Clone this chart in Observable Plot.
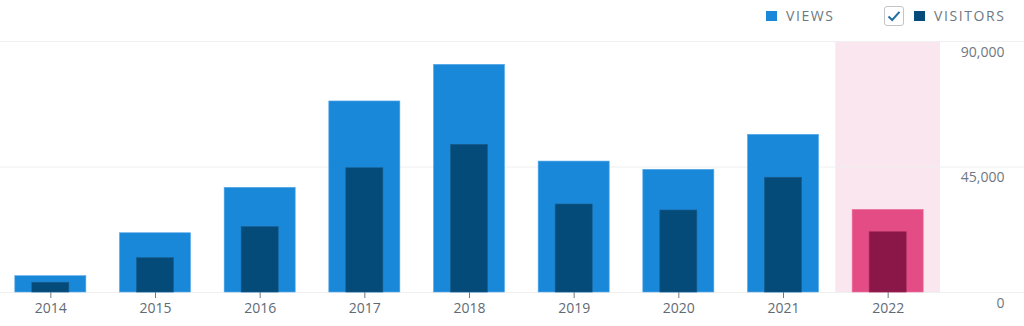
<!DOCTYPE html>
<html>
<head>
<meta charset="utf-8">
<script src="https://cdn.jsdelivr.net/npm/d3@7"></script>
<script src="https://cdn.jsdelivr.net/npm/@observablehq/plot@0.6"></script>
<style>
  html, body { margin: 0; padding: 0; background: #fff; }
  #wrap { position: relative; width: 1024px; height: 326px; font-family: "Open Sans", "Noto Sans", sans-serif; }
  #legend { position: absolute; top: 0; left: 0; width: 1024px; height: 32px; }
  .lg { position: absolute; top: 6px; font-size: 14px; letter-spacing: 1.6px; color: #6d7882; line-height: 20px; }
  .sw { position: absolute; top: 11px; width: 11px; height: 10px; }
  .cb { position: absolute; top: 6px; left: 884px; width: 20px; height: 20px; border: 1px solid #c3c4c7; border-radius: 3px; box-sizing: border-box; background: #fff; }
  #chart { position: absolute; top: 0; left: 0; }
</style>
</head>
<body>
<div id="wrap">
  <div id="chart"></div>
  <div id="legend">
    <div class="sw" style="left:766px;background:#1a88d9"></div>
    <div class="lg" style="left:786px">VIEWS</div>
    <div class="cb"><svg width="18" height="18" viewBox="0 0 18 18"><path d="M3.5 9.5 L7.2 13 L14.5 4.8" fill="none" stroke="#1f6fa6" stroke-width="2"/></svg></div>
    <div class="sw" style="left:914px;background:#064a79"></div>
    <div class="lg" style="left:934px">VISITORS</div>
  </div>
</div>
<script>
const years = ["2014","2015","2016","2017","2018","2019","2020","2021","2022"];
const views = [5850, 21250, 37550, 68500, 81650, 46950, 44000, 56550, 29650];
const visitors = [3500, 12300, 23450, 44550, 52950, 31550, 29400, 41150, 21600];
const highlightYear = "2022";
const yTicks = [0, 45000, 90000];

const data = years.map((y, i) => ({year: y, views: views[i], visitors: visitors[i], hl: y === highlightYear}));

const plot = Plot.plot({
  width: 1024,
  height: 326,
  marginTop: 41,
  marginBottom: 34,
  marginLeft: 0,
  marginRight: 0,
  style: {fontFamily: "'Open Sans', 'Noto Sans', sans-serif", fontSize: "14px", background: "transparent"},
  x: {domain: years, range: [-2, 940], padding: 0, round: false, label: null},
  y: {domain: [0, 90000], label: null, axis: null},
  marks: [
    Plot.barY(data.filter(d => d.hl), {x: "year", y1: 0, y2: 90000, fill: "#f9e6ee"}),
    Plot.ruleY(yTicks, {stroke: "#f0f0f0", strokeWidth: 1}),
    Plot.barY(data, {x: "year", y: "views", fill: d => d.hl ? "#e34c84" : "#1a88d9",
      stroke: d => d.hl ? "#ea77a1" : "#5aaaea", strokeWidth: 0.6, insetLeft: 16.8, insetRight: 16.8}),
    Plot.barY(data, {x: "year", y: "visitors", fill: d => d.hl ? "#8b1748" : "#054b79",
      stroke: d => d.hl ? "#9c2a5a" : "#1b5d8a", strokeWidth: 0.6, insetLeft: 33.8, insetRight: 33.8}),
    Plot.axisX({tickSize: 6, tickPadding: 5, stroke: "#6d7882", color: "#5f6b75", fontSize: 14, label: null}),
    Plot.text(yTicks, {y: d => d, text: d => d3.format(",")(d), frameAnchor: "right", dx: -20, dy: 11,
      textAnchor: "end", fill: "#6d7882", fontSize: 14})
  ]
});
document.getElementById("chart").appendChild(plot);
</script>
</body>
</html>
